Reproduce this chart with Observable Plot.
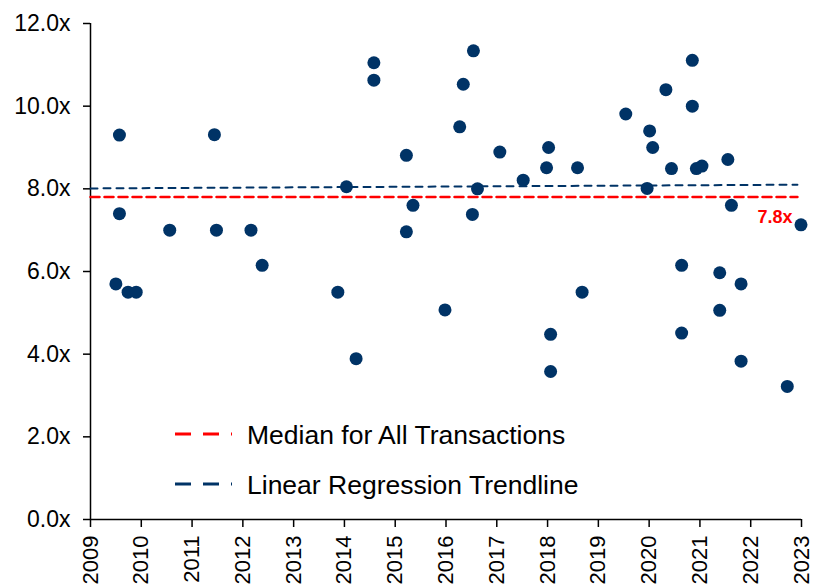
<!DOCTYPE html>
<html><head><meta charset="utf-8">
<script src="https://cdn.jsdelivr.net/npm/d3@7"></script>
<script src="https://cdn.jsdelivr.net/npm/@observablehq/plot@0.6"></script>
<style>body{margin:0;background:#fff;}</style>
</head><body><div id="chart"></div>
<script>
// ---- Data ----
const dealYears = [2009.50, 2009.57, 2009.57, 2009.74, 2009.90, 2010.56, 2011.44, 2011.48, 2012.16, 2012.38,
  2013.87, 2014.04, 2014.23, 2014.58, 2014.58, 2015.22, 2015.22, 2015.35, 2015.98, 2016.27,
  2016.34, 2016.54, 2016.52, 2016.62, 2017.06, 2017.52, 2018.02, 2017.98, 2018.06, 2018.06,
  2018.59, 2018.68, 2019.54, 2020.01, 2020.07, 2019.96, 2020.33, 2020.44, 2020.64, 2020.64,
  2020.85, 2020.85, 2020.93, 2021.04, 2021.39, 2021.39, 2021.55, 2021.62, 2021.81, 2021.81,
  2022.72, 2022.99];
const dealMultiples = [5.70, 9.30, 7.40, 5.50, 5.50, 7.00, 9.31, 7.00, 7.00, 6.15,
  5.50, 8.05, 3.89, 11.05, 10.63, 8.81, 6.96, 7.60, 5.07, 9.50,
  10.53, 11.34, 7.38, 8.00, 8.89, 8.21, 9.00, 8.51, 4.48, 3.58,
  8.51, 5.50, 9.81, 9.40, 9.00, 8.01, 10.40, 8.49, 6.15, 4.51,
  11.11, 10.00, 8.49, 8.55, 5.97, 5.06, 8.71, 7.60, 5.70, 3.83,
  3.22, 7.13];
const medianYears = [2009, 2022.92];
const medianMultiples = [7.8, 7.8];
const medianLabel = "7.8x";
const trendYears = [2009, 2022.92];
const trendMultiples = [8.01, 8.10];
const xTicks = [2009, 2010, 2011, 2012, 2013, 2014, 2015, 2016, 2017, 2018, 2019, 2020, 2021, 2022, 2023];
const yTicks = [0, 2, 4, 6, 8, 10, 12];
const legendLabels = ["Median for All Transactions", "Linear Regression Trendline"];

// ---- Styles ----
const NAVY = "#003366";
const RED = "#FF0000";
const FONT = "'Liberation Sans', Arial, sans-serif";

const deals = dealYears.map((x, i) => ({x, y: dealMultiples[i]}));
const median = medianYears.map((x, i) => ({x, y: medianMultiples[i]}));
const trend = trendYears.map((x, i) => ({x, y: trendMultiples[i]}));
const legendItems = [
  {label: legendLabels[0], color: RED},
  {label: legendLabels[1], color: NAVY}
];

function legendMark(index, scales, values, dims) {
  const g = d3.create("svg:g");
  const x0 = dims.marginLeft + 85, x1 = dims.marginLeft + 142, tx = dims.marginLeft + 157;
  const yb = dims.height - dims.marginBottom;
  legendItems.forEach((item, i) => {
    const y = yb - 85 + i * 50;
    g.append("line").attr("x1", x0).attr("x2", x1).attr("y1", y).attr("y2", y)
      .attr("stroke", item.color).attr("stroke-width", 3).attr("stroke-dasharray", "16,12");
    g.append("text").attr("x", tx).attr("y", y).attr("dy", "0.36em")
      .attr("text-anchor", "start")
      .attr("font-size", 26.5).attr("font-family", FONT).attr("fill", "#000").text(item.label);
  });
  return g.node();
}

const chart = Plot.plot({
  width: 820,
  height: 586,
  marginLeft: 90,
  marginRight: 19,
  marginTop: 23,
  marginBottom: 67,
  style: {fontFamily: FONT, fontSize: "22px", color: "#000", background: "#fff"},
  x: {domain: [2009, 2023]},
  y: {domain: [0, 12]},
  marks: [
    Plot.axisY({ticks: yTicks, tickFormat: d => d.toFixed(1) + "x", tickSize: 7, tickPadding: 13, strokeWidth: 1.5, fontSize: 23, label: null}),
    Plot.axisX({ticks: xTicks, tickFormat: d => String(d), tickSize: 8, tickPadding: 8, tickRotate: -90, strokeWidth: 1.5, fontSize: 22, label: null}),
    Plot.ruleX([2009], {stroke: "#000", strokeWidth: 1.5}),
    Plot.ruleY([0], {stroke: "#000", strokeWidth: 1.5}),
    Plot.line(trend, {x: "x", y: "y", stroke: NAVY, strokeWidth: 2, strokeDasharray: "7,6"}),
    Plot.line(median, {x: "x", y: "y", stroke: RED, strokeWidth: 2.5, strokeDasharray: "9,5"}),
    Plot.text([medianMultiples[0]], {x: () => 2023, y: d => d, text: () => medianLabel, textAnchor: "end", dx: -9, dy: 20, fill: RED, fontWeight: "bold", fontSize: 18}),
    Plot.dot(deals, {x: "x", y: "y", r: 6.5, fill: NAVY, stroke: "none"}),
    legendMark
  ]
});
document.getElementById("chart").appendChild(chart);
</script>
</body></html>
